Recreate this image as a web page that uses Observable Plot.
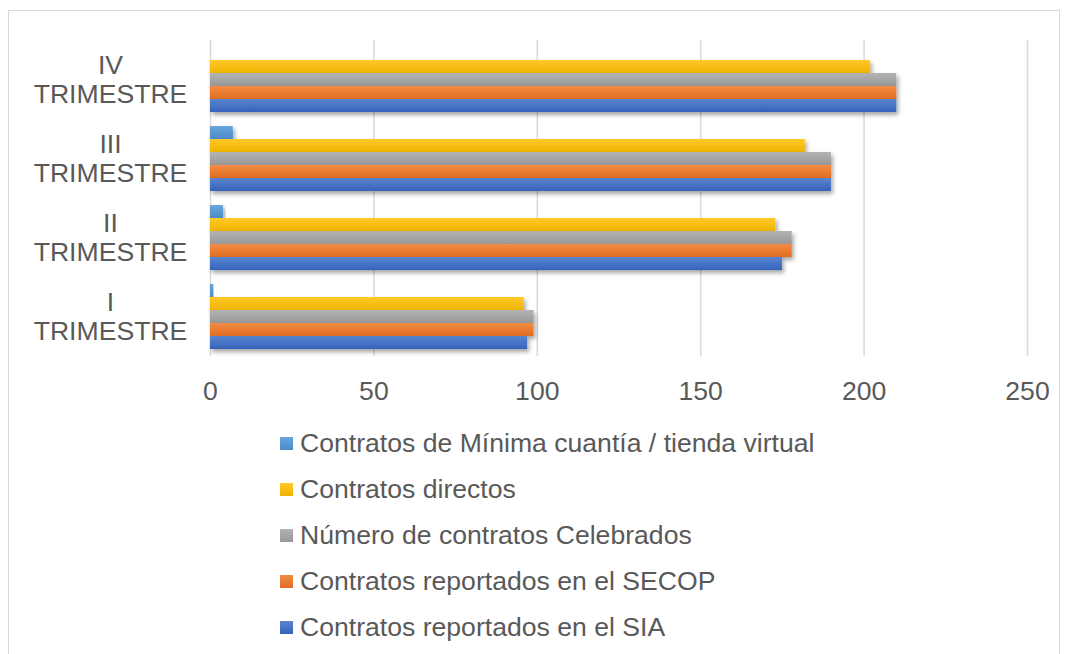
<!DOCTYPE html>
<html>
<head>
<meta charset="utf-8">
<script src="https://cdn.jsdelivr.net/npm/d3@7"></script>
<script src="https://cdn.jsdelivr.net/npm/@observablehq/plot@0.6"></script>
<style>
  html, body { margin: 0; padding: 0; background: #fff; width: 1065px; height: 654px; overflow: hidden; }
  #frame { position: absolute; left: 8px; top: 10px; width: 1052px; height: 700px; border: 1.3px solid #d9d9d9; box-sizing: border-box; }
  #chart { position: absolute; left: 0; top: 0; }
  #legend { position: absolute; left: 280px; top: 420px; font-family: "Liberation Sans", Arial, sans-serif; font-size: 26.6px; color: #595959; }
  .item { height: 46.2px; display: flex; align-items: center; white-space: nowrap; }
  .sw { width: 13px; height: 13px; margin-right: 7px; flex: none; }
</style>
</head>
<body>
<div id="frame"></div>
<div id="chart"></div>
<div id="legend"></div>
<script>
// Data
const quarters = ["I TRIMESTRE", "II TRIMESTRE", "III TRIMESTRE", "IV TRIMESTRE"];
const series = [
  "Contratos de Mínima cuantía / tienda virtual",
  "Contratos directos",
  "Número de contratos Celebrados",
  "Contratos reportados en el SECOP",
  "Contratos reportados en el SIA"
];
const minima     = [1, 4, 7, 0];
const directos   = [96, 173, 182, 202];
const celebrados = [99, 178, 190, 210];
const secop      = [99, 178, 190, 210];
const sia        = [97, 175, 190, 210];
const xTicks = [0, 50, 100, 150, 200, 250];

const colors = ["#5B9BD5", "#FFC000", "#A5A5A5", "#ED7D31", "#4472C4"];
const gradTop = ["#6aa6dc", "#ffc92a", "#b3b3b3", "#f48c45", "#5a85cf"];
const gradBot = ["#4b8bc8", "#efb400", "#989898", "#e06d20", "#3563bb"];

const valuesBySeries = [minima, directos, celebrados, secop, sia];
const data = [];
series.forEach((s, si) => {
  quarters.forEach((q, qi) => {
    data.push({quarter: q, series: s, value: valuesBySeries[si][qi]});
  });
});

const gradIds = series.map((_, i) => `url(#grad${i})`);

const plot = Plot.plot({
  width: 1065,
  height: 410,
  marginLeft: 210,
  marginRight: 38,
  marginTop: 40,
  marginBottom: 54,
  style: {fontFamily: "'Liberation Sans', Arial, sans-serif", color: "#595959", background: "transparent"},
  x: {domain: [0, 250], ticks: xTicks, label: null},
  y: {domain: series, axis: null, paddingInner: 0, paddingOuter: 0.4},
  fy: {domain: quarters.slice().reverse(), padding: 0, label: null},
  color: {domain: series, range: gradIds, type: "ordinal"},
  marks: [
    Plot.gridX(xTicks, {stroke: "#d9d9d9", strokeOpacity: 1, strokeWidth: 1.5}),
    Plot.barX(data.filter(d => d.value > 0), {x: "value", y: "series", fy: "quarter", fill: "series"}),
    Plot.axisX(xTicks, {anchor: "bottom", tickSize: 0, tickPadding: 25, fontSize: 26.6, fill: "#595959", facetAnchor: "bottom", label: null}),
    Plot.axisFy({anchor: "left", tickSize: 0, tickPadding: 0, textAnchor: "middle", dx: -100, dy: -1, fontSize: 26.6, lineHeight: 1.09, fill: "#595959",
      tickFormat: d => d.replace(" ", "\n"), label: null})
  ]
});

const svg = d3.select(plot);
const defs = svg.insert("defs", ":first-child");
series.forEach((s, i) => {
  const g = defs.append("linearGradient").attr("id", `grad${i}`).attr("x1", 0).attr("y1", 0).attr("x2", 0).attr("y2", 1);
  g.append("stop").attr("offset", "0%").attr("stop-color", gradTop[i]);
  g.append("stop").attr("offset", "100%").attr("stop-color", gradBot[i]);
});
const f = defs.append("filter").attr("id", "shadow").attr("x", "-10%").attr("y", "-50%").attr("width", "130%").attr("height", "220%");
f.append("feDropShadow").attr("dx", 2).attr("dy", 3).attr("stdDeviation", 2.2).attr("flood-color", "#000").attr("flood-opacity", 0.35);
svg.selectAll("g[aria-label='bar'] rect").attr("filter", "url(#shadow)");

document.getElementById("chart").appendChild(plot);

const legend = d3.select("#legend");
series.forEach((s, i) => {
  const it = legend.append("div").attr("class", "item");
  it.append("div").attr("class", "sw").style("background", `linear-gradient(${gradTop[i]}, ${gradBot[i]})`);
  it.append("span").text(s);
});
</script>
</body>
</html>
